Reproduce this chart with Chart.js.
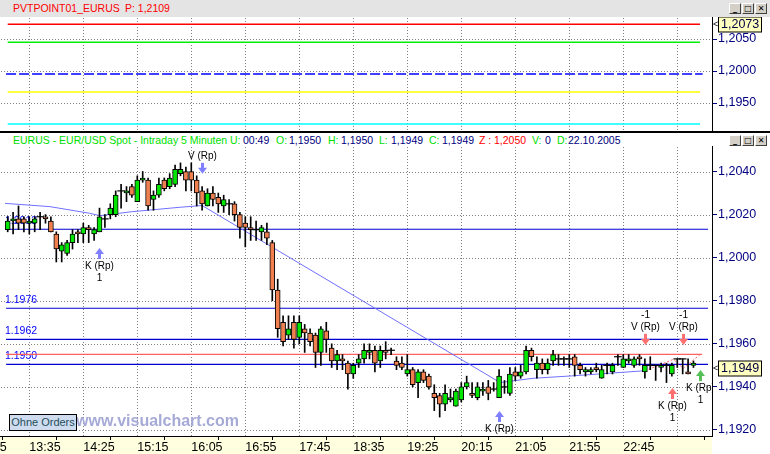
<!DOCTYPE html>
<html lang="de">
<head>
<meta charset="UTF-8">
<title>EURUS - EUR/USD Spot - Intraday 5 Minuten</title>
<script src="https://cdn.jsdelivr.net/npm/chart.js"></script>
<style>
    body {
        margin: 0;
        width: 770px;
        height: 454px;
        overflow: hidden;
        position: relative;
        background: #fff;
        font-family: 'Liberation Sans', Arial, sans-serif;
    }
    .abs { position: absolute; white-space: nowrap; }
    #topBar { left: 0; top: 0; width: 770px; height: 17px; background: #e4e4e4; }
    #sep { left: 0; top: 131px; width: 770px; height: 2px; background: #000; }
    .ttl { font-size: 10.5px; line-height: 13px; }
    .g { color: #00e000; }
    .n { color: #000080; }
    .r { color: #ff0000; }
    .btn {
        width: 10px; height: 9px; background: #d4d0c8;
        border: 1px solid; border-color: #fff #404040 #404040 #fff;
        font: bold 8px 'DejaVu Sans', sans-serif; line-height: 9px; text-align: center; color: #000;
    }
    #orders {
        left: 9px; top: 414px; width: 66px; height: 15px;
        background: #cfdcf0; border: 1px solid #000;
        color: #1d4e5a; font-size: 11px; line-height: 15px; text-align: center;
    }
    #mark {
        left: 76px; top: 412px; font-size: 16px; font-weight: bold; line-height: 18px;
        color: #a6aad6;
    }
</style>
</head>
<body>
    <!-- pivot panel header -->
    <div id="topBar" class="abs"></div>
    <span class="abs ttl r" style="left:13px;top:2px">PVTPOINT01_EURUS</span>
    <span class="abs ttl r" style="left:125px;top:2px">P: 1,2109</span>
    <div class="abs btn" style="left:729px;top:3px">_</div>
    <div class="abs btn" style="left:742px;top:3px">□</div>
    <div class="abs btn" style="left:755px;top:3px">✕</div>
    <canvas id="pivotCanvas" class="abs" style="left:0;top:17px" width="770" height="114"></canvas>
    <div id="sep" class="abs"></div>

    <!-- price panel header -->
    <span class="abs ttl g" style="left:13px;top:134px">EURUS - EUR/USD Spot - Intraday 5 Minuten</span>
    <span class="abs ttl g" style="left:230px;top:134px">U:</span>
    <span class="abs ttl n" style="left:243px;top:134px">00:49</span>
    <span class="abs ttl g" style="left:276px;top:134px">O:</span>
    <span class="abs ttl n" style="left:289px;top:134px">1,1950</span>
    <span class="abs ttl g" style="left:328px;top:134px">H:</span>
    <span class="abs ttl n" style="left:341px;top:134px">1,1950</span>
    <span class="abs ttl g" style="left:379px;top:134px">L:</span>
    <span class="abs ttl n" style="left:391px;top:134px">1,1949</span>
    <span class="abs ttl g" style="left:429px;top:134px">C:</span>
    <span class="abs ttl n" style="left:442px;top:134px">1,1949</span>
    <span class="abs ttl r" style="left:479px;top:134px">Z :</span>
    <span class="abs ttl r" style="left:494px;top:134px">1,2050</span>
    <span class="abs ttl g" style="left:532px;top:134px">V:</span>
    <span class="abs ttl n" style="left:545px;top:134px">0</span>
    <span class="abs ttl g" style="left:557px;top:134px">D:</span>
    <span class="abs ttl n" style="left:568px;top:134px">22.10.2005</span>
    <div class="abs btn" style="left:729px;top:135px">_</div>
    <div class="abs btn" style="left:742px;top:135px">□</div>
    <div class="abs btn" style="left:755px;top:135px">✕</div>
    <canvas id="priceCanvas" class="abs" style="left:0;top:146px" width="770" height="308"></canvas>

    <div id="mark" class="abs">www.visualchart.com</div>
    <div id="orders" class="abs">Ohne Orders</div>

<script>
// 5 minute bars, 13:15 .. 23:50 (bar index = position on the time axis)
const opens = [
    1.2013,1.2017,1.2018,1.2018,1.2016,1.2016,1.2019,1.2019,1.2017,1.2011,
    1.2003,1.2002,1.2007,1.2012,1.2011,1.2014,1.2011,1.2012,1.2018,1.2020,
    1.2020,1.2031,1.2030,1.2033,1.2026,1.2036,1.2036,1.2027,1.2029,1.2036,
    1.2033,1.2034,1.2039,1.2040,1.2040,1.2036,1.2031,1.2024,1.2030,1.2028,
    1.2024,1.2025,1.2025,1.2020,1.2016,1.2014,1.2013,1.2012,1.2012,1.2007,
    1.1985,1.1970,1.1964,1.1970,1.1963,1.1967,1.1965,1.1964,1.1956,1.1966,
    1.1958,1.1952,1.1953,1.1951,1.1946,1.1951,1.1953,1.1956,1.1957,1.1952,
    1.1957,1.1957,1.1952,1.1951,1.1946,1.1948,1.1942,1.1947,1.1945,1.1937,
    1.1936,1.1932,1.1934,1.1931,1.1934,1.1940,1.1937,1.1935,1.1938,1.1940,
    1.1939,1.1935,1.1940,1.1937,1.1947,1.1945,1.1947,1.1957,1.1948,1.1951,
    1.1948,1.1952,1.1953,1.1953,1.1953,1.1954,1.1950,1.1947,1.1947,1.1949,
    1.1944,1.1950,1.1947,1.1954,1.1949,1.1952,1.1950,1.1954,1.1947,1.1950,
    1.1950,1.1949,1.1950,1.1946,1.1953,1.1953,1.1947,1.1950
];
const highs = [
    1.2019,1.2021,1.2024,1.2019,1.2019,1.2019,1.2021,1.2020,1.2019,1.2012,
    1.2007,1.2008,1.2013,1.2013,1.2016,1.2015,1.2014,1.2023,1.2020,1.2025,
    1.2031,1.2034,1.2033,1.2034,1.2038,1.2040,1.2037,1.2031,1.2037,1.2037,
    1.2039,1.2043,1.2044,1.2042,1.2044,1.2038,1.2033,1.2032,1.2033,1.2030,
    1.2029,1.2027,1.2026,1.2021,1.2019,1.2019,1.2017,1.2015,1.2016,1.2008,
    1.1990,1.1973,1.1973,1.1973,1.1973,1.1969,1.1967,1.1965,1.1968,1.1970,
    1.1960,1.1957,1.1955,1.1952,1.1951,1.1955,1.1960,1.1960,1.1959,1.1959,
    1.1961,1.1958,1.1954,1.1954,1.1955,1.1949,1.1948,1.1948,1.1946,1.1941,
    1.1937,1.1941,1.1939,1.1939,1.1942,1.1945,1.1942,1.1942,1.1942,1.1943,
    1.1942,1.1948,1.1943,1.1949,1.1949,1.1950,1.1959,1.1958,1.1954,1.1953,
    1.1953,1.1957,1.1955,1.1954,1.1955,1.1955,1.1951,1.1949,1.1949,1.1951,
    1.1950,1.1951,1.1951,1.1955,1.1955,1.1955,1.1954,1.1955,1.1953,1.1954,
    1.1950,1.1951,1.1951,1.1951,1.1953,1.1953,1.1953,1.1952
];
const lows = [
    1.2012,1.2011,1.2013,1.2012,1.2011,1.2012,1.2013,1.2016,1.2012,1.1998,
    1.1998,1.2001,1.2004,1.2007,1.2007,1.2007,1.2008,1.2012,1.2014,1.2018,
    1.2019,1.2023,1.2026,1.2028,1.2026,1.2035,1.2022,1.2022,1.2028,1.2031,
    1.2032,1.2033,1.2038,1.2031,1.2031,1.2024,1.2022,1.2024,1.2024,1.2021,
    1.2021,1.2020,1.2017,1.2009,1.2005,1.2008,1.2008,1.2008,1.2006,1.1980,
    1.1963,1.1959,1.1962,1.1958,1.1960,1.1956,1.1959,1.1949,1.1950,1.1956,
    1.1949,1.1948,1.1948,1.1939,1.1944,1.1949,1.1951,1.1953,1.1947,1.1949,
    1.1953,1.1955,1.1948,1.1948,1.1945,1.1940,1.1935,1.1942,1.1939,1.1929,
    1.1926,1.1929,1.1933,1.1931,1.1933,1.1939,1.1935,1.1934,1.1936,1.1934,
    1.1938,1.1935,1.1937,1.1936,1.1943,1.1944,1.1946,1.1952,1.1944,1.1946,
    1.1946,1.1950,1.1950,1.1950,1.1949,1.1945,1.1946,1.1945,1.1946,1.1947,
    1.1944,1.1946,1.1946,1.1950,1.1949,1.1951,1.1949,1.1950,1.1944,1.1948,
    1.1943,1.1947,1.1942,1.1945,1.1949,1.1946,1.1946,1.1949
];
const closes = [
    1.2017,1.2018,1.2016,1.2016,1.2017,1.2018,1.2019,1.2018,1.2012,1.2004,
    1.2006,1.2007,1.2011,1.2011,1.2014,1.2013,1.2013,1.2019,1.2018,1.2023,
    1.2029,1.2031,1.2031,1.2029,1.2036,1.2037,1.2024,1.2029,1.2034,1.2032,
    1.2037,1.2041,1.2041,1.2036,1.2036,1.2030,1.2025,1.2030,1.2027,1.2025,
    1.2027,1.2025,1.2020,1.2014,1.2014,1.2013,1.2013,1.2014,1.2009,1.1985,
    1.1967,1.1961,1.1967,1.1962,1.1970,1.1965,1.1961,1.1956,1.1967,1.1962,
    1.1952,1.1955,1.1952,1.1946,1.1950,1.1953,1.1957,1.1957,1.1951,1.1957,
    1.1956,1.1957,1.1950,1.1949,1.1948,1.1941,1.1947,1.1943,1.1940,1.1935,
    1.1932,1.1937,1.1935,1.1938,1.1940,1.1942,1.1936,1.1940,1.1939,1.1937,
    1.1939,1.1945,1.1940,1.1946,1.1945,1.1947,1.1957,1.1954,1.1951,1.1948,
    1.1951,1.1955,1.1953,1.1953,1.1953,1.1950,1.1948,1.1948,1.1948,1.1948,
    1.1948,1.1950,1.1950,1.1954,1.1953,1.1953,1.1953,1.1953,1.1950,1.1950,
    1.1950,1.1950,1.1950,1.1950,1.1953,1.1953,1.1946,1.1951
];

// time axis: tick bar index and its label
const tickBars  = [-6, 4, 14, 24, 34, 44, 54, 64, 74, 84, 94, 104, 114, 124];
const tickTimes = ['12:45','13:35','14:25','15:15','16:05','16:55','17:45','18:35','19:25','20:15','21:05','21:55','22:45',''];

// price axis ticks
const priceTicks = [1.1920, 1.1940, 1.1960, 1.1980, 1.2000, 1.2020, 1.2040];
const pivotTicks = [1.1950, 1.2000, 1.2050];

// pivot point panel levels
const pivotPrice = [1.2073, 1.2045, 1.19953, 1.19672, 1.19172];
const pivotFrom  = [0, 0, -0.3, 0, 0];
const pivotTo    = [128.2, 128.2, 128.7, 128.2, 128.2];

// horizontal order levels in price panel
const levelPrice = [1.20132, 1.19765, 1.19621, 1.19551, 1.19505];
const levelText  = ['1.2013', '1.1976', '1.1962', '', '1.1950'];
const levelFrom  = [-0.3, -0.3, -0.3, -0.3, -0.3];
const levelTo    = [129.7, 129.7, 129.7, 128.6, 129.7];

// stop-and-reverse trace (blue) and its live tail (red)
const traceBar   = [-0.5, 7.8, 15.2, 17.1, 22.9, 31.9, 36, 91.2, 97.3, 104.4, 118];
const tracePrice = [1.20252, 1.20237, 1.20206, 1.20195, 1.20213, 1.20234, 1.20242, 1.19420, 1.19440, 1.19451, 1.19475];
const tailBar    = [118, 123.3, 125.1, 128.5];
const tailPrice  = [1.19475, 1.19528, 1.19486, 1.19556];

// system signals: K = kaufen (buy), V = verkaufen (sell)
const sigBar    = [17, 36, 91, 118, 125, 123, 128.2];
const sigPrice  = [1.20045, 1.20389, 1.19288, 1.19595, 1.19595, 1.19395, 1.19478];
const sigSide   = ['K', 'V', 'K', 'V', 'V', 'K', 'K'];
const sigQty    = ['1', '', '', '-1', '-1', '1', '1'];
const sigSource = ['done', 'done', 'done', 'pending', 'pending', 'pending', 'live'];

const lastPivot = 1.2073;
const lastPrice = 1.1949;

// ---- styles ----
const X_MIN = -1.426, X_MAX = 130.43;
const UP = '#00e600', DOWN = '#f08050';
const pivotColors = ['#ff0000', '#00ee00', '#0000ff', '#ffff00', '#00ffff'];
const levelColors = ['#0000d0', '#0000d0', '#0000d0', '#ff6060', '#0000d0'];
const sigColors = { done: '#7f7fff', pending: '#ff7070', live: '#55c055' };
const FONT = 'Liberation Sans';

const fmtComma = v => v.toFixed(4).replace('.', ',');

// chart.js pads the chart area for overhanging tick labels; this layout has none
function noPadding(s) {
    s.paddingLeft = 0; s.paddingRight = 0; s.paddingTop = 0; s.paddingBottom = 0;
}

function timeAxis(showLabels) {
    return {
        type: 'linear', min: X_MIN, max: X_MAX, offset: false,
        afterBuildTicks: s => { s.ticks = tickBars.map(v => ({ value: v })); },
        afterFit: s => { s.height = showLabels ? 18 : 0; noPadding(s); },
        grid: { drawOnChartArea: false, drawTicks: showLabels, tickLength: 4, tickColor: '#000', tickBorderDash: [] },
        border: { display: showLabels, color: '#000', width: 1 },
        ticks: {
            display: true, autoSkip: false, maxRotation: 0, align: 'start', padding: 0,
            color: showLabels ? '#000' : 'rgba(0,0,0,0)', font: { family: FONT, size: 12.5 },
            callback: (v, i) => (showLabels ? tickTimes[i] : '')
        }
    };
}

function priceAxis(min, max, list) {
    return {
        type: 'linear', position: 'right', min: min, max: max,
        afterBuildTicks: s => { s.ticks = list.map(v => ({ value: v })); },
        afterFit: s => { s.width = 58; noPadding(s); },
        grid: { drawOnChartArea: false, drawTicks: true, tickLength: 5, tickColor: '#000080', tickBorderDash: [] },
        border: { color: '#000', width: 1 },
        ticks: { color: '#000080', padding: 1, font: { family: FONT, size: 12.5 }, callback: v => fmtComma(v) }
    };
}

// dotted grid at the scale ticks, painted dot by dot (no line dash state involved)
const dotGrid = {
    id: 'dotGrid',
    beforeDatasetsDraw(chart) {
        const { ctx, chartArea: a, scales: { x, y } } = chart;
        ctx.save();
        ctx.globalAlpha = 1;
        ctx.globalCompositeOperation = 'source-over';
        ctx.fillStyle = '#808080';
        const left = Math.ceil(a.left), right = Math.floor(a.right);
        const top = Math.ceil(a.top), bottom = Math.floor(a.bottom);
        x.ticks.forEach(t => {
            const px = Math.round(x.getPixelForValue(t.value));
            if (px < left || px >= right) return;
            for (let py = top + 1; py < bottom; py += 3) ctx.fillRect(px, py, 1, 1);
        });
        y.ticks.forEach(t => {
            const py = Math.round(y.getPixelForValue(t.value));
            if (py < top || py >= bottom) return;
            for (let px = left + 1; px < right; px += 3) ctx.fillRect(px, py, 1, 1);
        });
        ctx.restore();
    }
};

// yellow "last value" box on the price axis
const lastBox = {
    id: 'lastBox',
    afterDraw(chart, args, opts) {
        const { ctx, scales: { y } } = chart;
        const py = Math.round(y.getPixelForValue(opts.value)) + 0.5;
        ctx.save();
        ctx.fillStyle = '#000';
        ctx.font = '9px ' + FONT;
        ctx.textBaseline = 'middle';
        ctx.fillText('<', 713, py);
        ctx.fillStyle = '#ffffc0';
        ctx.fillRect(718.5, py - 7.5, 43, 15);
        ctx.strokeStyle = '#000';
        ctx.lineWidth = 1;
        ctx.strokeRect(718.5, py - 7.5, 43, 15);
        ctx.fillStyle = '#000040';
        ctx.font = '12.5px ' + FONT;
        ctx.fillText(fmtComma(opts.value), 721, py + 0.5);
        ctx.restore();
    }
};

// pale yellow band behind the time axis
const axisBand = {
    id: 'axisBand',
    beforeDraw(chart) {
        const { ctx, chartArea } = chart;
        ctx.save();
        ctx.fillStyle = '#ffffe0';
        ctx.fillRect(0, chartArea.bottom, chartArea.right, chart.height - chartArea.bottom);
        ctx.restore();
    }
};

// level captions (drawn under the candles)
const levelCaptions = {
    id: 'levelCaptions',
    beforeDatasetsDraw(chart) {
        const { ctx, chartArea, scales: { y } } = chart;
        ctx.save();
        ctx.fillStyle = '#0000ff';
        ctx.font = '10.5px ' + FONT;
        ctx.textBaseline = 'middle';
        levelPrice.forEach((p, i) => {
            if (!levelText[i]) return;
            ctx.fillText(levelText[i], chartArea.left + 5, y.getPixelForValue(p) - 8);
        });
        ctx.restore();
    }
};

// signal arrows with their captions
const signalMarks = {
    id: 'signalMarks',
    afterDatasetsDraw(chart) {
        const { ctx, chartArea, scales: { x, y } } = chart;
        ctx.save();
        ctx.beginPath();
        ctx.rect(chartArea.left, chartArea.top, chartArea.right - chartArea.left, chartArea.bottom - chartArea.top);
        ctx.clip();
        ctx.font = '10px ' + FONT;
        ctx.textAlign = 'center';
        ctx.textBaseline = 'middle';
        sigBar.forEach((b, i) => {
            const px = Math.round(x.getPixelForValue(b)) + 0.5;
            const py = y.getPixelForValue(sigPrice[i]);
            const d = sigSide[i] === 'K' ? 1 : -1;   // 1 = arrow up, drawn below the tip
            ctx.fillStyle = sigColors[sigSource[i]];
            ctx.beginPath();
            ctx.moveTo(px, py);
            ctx.lineTo(px - 4.5, py + d * 6);
            ctx.lineTo(px + 4.5, py + d * 6);
            ctx.closePath();
            ctx.fill();
            ctx.fillRect(px - 1.5, d > 0 ? py + 5 : py - 11, 3, 6);
            ctx.fillStyle = '#000';
            ctx.fillText(sigSide[i] + ' (Rp)', px, py + d * 18);
            if (sigQty[i]) ctx.fillText(sigQty[i], px, py + d * 30);
        });
        ctx.restore();
    }
};

// ---- pivot panel ----
new Chart(document.getElementById('pivotCanvas'), {
    type: 'line',
    data: {
        datasets: pivotPrice.map((p, i) => ({
            data: [{ x: pivotFrom[i], y: p }, { x: pivotTo[i], y: p }],
            borderColor: pivotColors[i],
            borderWidth: 1.5,
            borderDash: i === 2 ? [10, 3] : [],
            pointRadius: 0
        }))
    },
    options: {
        responsive: false, animation: false, devicePixelRatio: 1, events: [],
        layout: { padding: 0 },
        plugins: { legend: { display: false }, tooltip: { enabled: false }, lastBox: { value: lastPivot } },
        scales: { x: timeAxis(false), y: priceAxis(1.19063, 1.20844, pivotTicks) }
    },
    plugins: [dotGrid, lastBox]
});

// ---- price panel ----
const wickData = [], bodyData = [], dojiData = [];
opens.forEach((o, i) => {
    const c = closes[i];
    wickData.push({ x: i, y: [lows[i], highs[i]] });
    if (Math.abs(o - c) < 0.00005) {
        dojiData.push({ x: i, y: [c - 0.000012, c + 0.000012] });
    } else {
        bodyData.push({ x: i, y: [Math.min(o, c), Math.max(o, c)], up: c > o });
    }
});

const levelSets = levelPrice.map((p, i) => ({
    type: 'line',
    order: 3,
    data: [{ x: levelFrom[i], y: p }, { x: levelTo[i], y: p }],
    borderColor: levelColors[i],
    borderWidth: 1.2,
    pointRadius: 0
}));

new Chart(document.getElementById('priceCanvas'), {
    type: 'bar',
    data: {
        datasets: [
            {
                order: 0, grouped: false, barThickness: 5,
                data: bodyData,
                backgroundColor: c => (c.raw && c.raw.up ? UP : DOWN),
                borderColor: '#000', borderWidth: 1, borderSkipped: false
            },
            {
                order: 0, grouped: false, barThickness: 7,
                data: dojiData,
                backgroundColor: '#000'
            },
            {
                order: 1, grouped: false, barThickness: 1,
                data: wickData,
                backgroundColor: '#000'
            },
            {
                type: 'line', order: 2,
                data: traceBar.map((b, i) => ({ x: b, y: tracePrice[i] })),
                borderColor: '#7070ff', borderWidth: 1, pointRadius: 0, tension: 0
            },
            {
                type: 'line', order: 2,
                data: tailBar.map((b, i) => ({ x: b, y: tailPrice[i] })),
                borderColor: '#ff6060', borderWidth: 1, borderDash: [2, 2], pointRadius: 0, tension: 0
            },
            ...levelSets
        ]
    },
    options: {
        responsive: false, animation: false, devicePixelRatio: 1, events: [],
        layout: { padding: 0 },
        plugins: { legend: { display: false }, tooltip: { enabled: false }, lastBox: { value: lastPrice } },
        scales: { x: timeAxis(true), y: priceAxis(1.19172, 1.205184, priceTicks) }
    },
    plugins: [axisBand, dotGrid, levelCaptions, signalMarks, lastBox]
});
</script>
</body>
</html>
